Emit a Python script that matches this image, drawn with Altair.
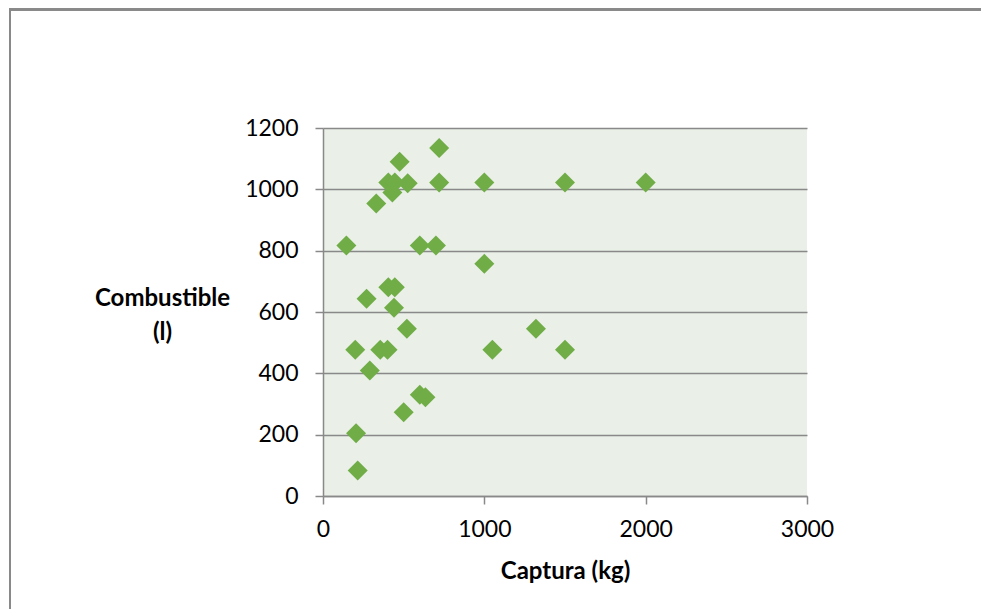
import altair as alt
import pandas as pd

captura = [720, 475, 405, 445, 430, 525, 720, 1000, 1500, 2000,
           330, 145, 600, 700, 1000, 270, 405, 445, 440, 520,
           1320, 200, 355, 400, 1050, 1500, 290, 600, 635, 500,
           205, 215]
combustible = [1135, 1090, 1022, 1022, 990, 1020, 1022, 1022, 1022, 1022,
               954, 817, 817, 817, 757, 643, 681, 681, 614, 545,
               545, 477, 477, 477, 477, 477, 409, 330, 322, 273,
               205, 83]

df = pd.DataFrame({"Captura": captura, "Combustible": combustible})

FONT = "Lato"
GRAY = "#898989"

points = alt.Chart(df).mark_point(
    shape="diamond", filled=True, size=400, color="#70AD47", opacity=1
).encode(
    x=alt.X("Captura:Q",
            scale=alt.Scale(domain=[0, 3000], nice=False, zero=True),
            axis=alt.Axis(values=[0, 1000, 2000, 3000], grid=False, format="d",
                          title="Captura (kg)", titleY=75, titleBaseline="middle",
                          tickSize=8, labelPadding=14)),
    y=alt.Y("Combustible:Q",
            scale=alt.Scale(domain=[0, 1200], nice=False),
            axis=alt.Axis(values=[0, 200, 400, 600, 800, 1000, 1200], grid=True, format="d",
                          title=["Combustible", "(l)"], titleAngle=0,
                          titleAlign="center", titleBaseline="middle",
                          titleX=-161, titleY=170, titleLineHeight=34,
                          tickSize=8, labelPadding=17)),
)

frame_top = alt.Chart(df).mark_rule(color=GRAY, strokeWidth=2, clip=False).encode(
    x=alt.value(-313), x2=alt.value(660), y=alt.value(-118.5)
)
frame_left = alt.Chart(df).mark_rule(color=GRAY, strokeWidth=2, clip=False).encode(
    x=alt.value(-313), y=alt.value(-119.5), y2=alt.value(490)
)

chart = alt.layer(frame_top, frame_left, points).properties(
    width=484, height=368,
    autosize=alt.AutoSizeParams(type="none"),
    padding={"left": 323, "top": 128, "right": 174, "bottom": 113},
    background="white",
).configure_view(
    fill="#EAEFE8", stroke=None
).configure_axis(
    domainColor=GRAY, domainWidth=1.5, tickColor=GRAY, tickWidth=1.5,
    gridColor=GRAY, gridWidth=1.5, gridOpacity=1,
    labelFont=FONT, labelFontSize=23, labelColor="#000000",
    titleFont=FONT, titleFontSize=24, titleFontWeight="bold", titleColor="#000000",
    labelFlush=False,
)

chart.save("out.html", embed_options={"renderer": "svg", "actions": False})
